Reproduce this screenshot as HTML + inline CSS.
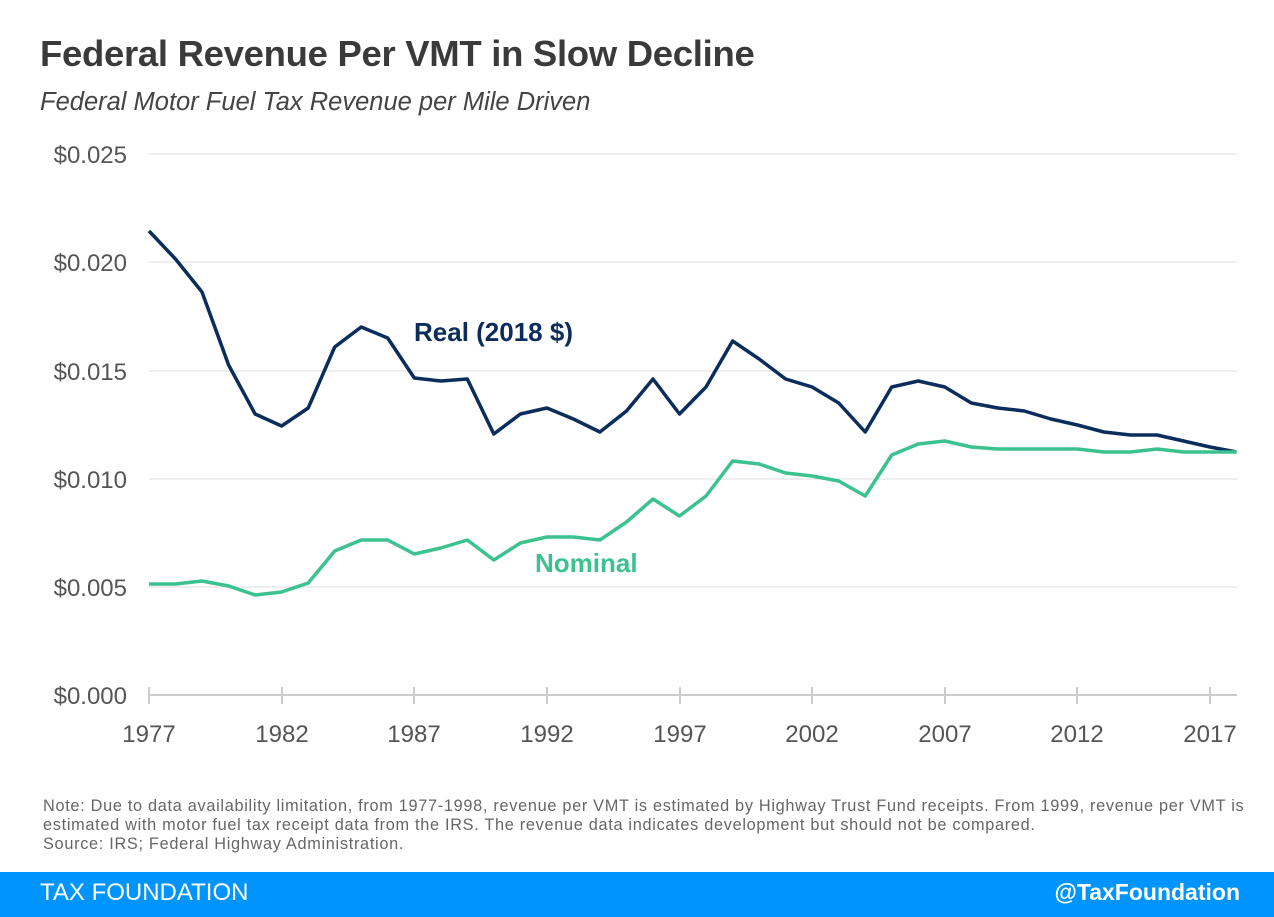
<!DOCTYPE html>
<html><head><meta charset="utf-8"><style>
body{margin:0;width:1274px;height:917px;background:#fff;font-family:"Liberation Sans",sans-serif;position:relative;overflow:hidden}
.t{position:absolute;white-space:nowrap}
</style></head><body>
<div class="t" style="left:40px;top:33px;font-size:36.5px;font-weight:bold;color:#3a3a3a;letter-spacing:-0.3px">Federal Revenue Per VMT in Slow Decline</div>
<div class="t" style="left:40px;top:88px;font-size:25.5px;font-style:italic;color:#444">Federal Motor Fuel Tax Revenue per Mile Driven</div>
<svg width="1274" height="917" style="position:absolute;left:0;top:0">
<g stroke="#ddd" stroke-width="1">
<line x1="149" x2="1237" y1="154" y2="154"/><line x1="149" x2="1237" y1="262" y2="262"/><line x1="149" x2="1237" y1="371" y2="371"/><line x1="149" x2="1237" y1="479" y2="479"/><line x1="149" x2="1237" y1="587" y2="587"/>
</g>
<g stroke="#ccc" stroke-width="2">
<line x1="149" x2="1237" y1="695" y2="695"/>
<line x1="149" x2="149" y1="687" y2="704"/><line x1="282" x2="282" y1="687" y2="704"/><line x1="414" x2="414" y1="687" y2="704"/><line x1="547" x2="547" y1="687" y2="704"/><line x1="680" x2="680" y1="687" y2="704"/><line x1="812" x2="812" y1="687" y2="704"/><line x1="945" x2="945" y1="687" y2="704"/><line x1="1077" x2="1077" y1="687" y2="704"/><line x1="1210" x2="1210" y1="687" y2="704"/>
</g>
<g font-size="24" fill="#555" text-anchor="end">
<text x="127" y="163">$0.025</text><text x="127" y="271">$0.020</text><text x="127" y="380">$0.015</text><text x="127" y="488">$0.010</text><text x="127" y="596">$0.005</text><text x="127" y="704">$0.000</text>
</g>
<g font-size="24" fill="#555" text-anchor="middle">
<text x="149" y="742">1977</text><text x="282" y="742">1982</text><text x="414" y="742">1987</text><text x="547" y="742">1992</text><text x="680" y="742">1997</text><text x="812" y="742">2002</text><text x="945" y="742">2007</text><text x="1077" y="742">2012</text><text x="1210" y="742">2017</text>
</g>
<polyline fill="none" stroke="#0b2d5b" stroke-width="3.5" stroke-linejoin="round" points="149,231 175.5,259 202,292 228.6,365 255.1,414 281.6,426 308.2,408 334.7,347 361.2,327 387.7,338 414.3,378 440.8,381 467.3,379 493.8,434 520.4,414 546.9,408 573.4,419 599.9,432 626.5,411 653,379 679.5,414 706,387 732.6,341 759.1,359 785.6,379 812.1,387 838.7,403 865.2,432 891.7,387 918.2,381 944.8,387 971.3,403 997.8,408 1024.3,411 1050.9,419 1077.4,425 1103.9,432 1130.4,435 1157,435 1183.5,441 1210,447 1236.5,452"/>
<polyline fill="none" stroke="#3cc28e" stroke-width="3.5" stroke-linejoin="round" points="149,584 175.5,584 202,581 228.6,586 255.1,595 281.6,592 308.2,583 334.7,551 361.2,540 387.7,540 414.3,554 440.8,548 467.3,540 493.8,560 520.4,543 546.9,537 573.4,537 599.9,540 626.5,522 653,499 679.5,516 706,496 732.6,461 759.1,464 785.6,473 812.1,476 838.7,481 865.2,496 891.7,455 918.2,444 944.8,441 971.3,447 997.8,449 1024.3,449 1050.9,449 1077.4,449 1103.9,452 1130.4,452 1157,449 1183.5,452 1210,452 1236.5,452"/>
<text x="414" y="341" font-size="26" font-weight="bold" fill="#0b2d5b">Real (2018 $)</text>
<text x="535" y="572" font-size="26" font-weight="bold" fill="#3cc28e">Nominal</text>
</svg>
<div class="t" style="left:43px;top:797px;font-size:16.3px;line-height:19px;color:#666;letter-spacing:0.7px">Note: Due to data availability limitation, from 1977-1998, revenue per VMT is estimated by Highway Trust Fund receipts. From 1999, revenue per VMT is<br>estimated with motor fuel tax receipt data from the IRS. The revenue data indicates development but should not be compared.<br>Source: IRS; Federal Highway Administration.</div>
<div style="position:absolute;left:0;top:872px;width:1274px;height:45px;background:#0094ff"></div>
<div class="t" style="left:40px;top:879px;font-size:24px;color:#fff">TAX FOUNDATION</div>
<div class="t" style="right:34px;top:879px;font-size:23px;color:#fff;font-weight:bold">@TaxFoundation</div>
</body></html>
